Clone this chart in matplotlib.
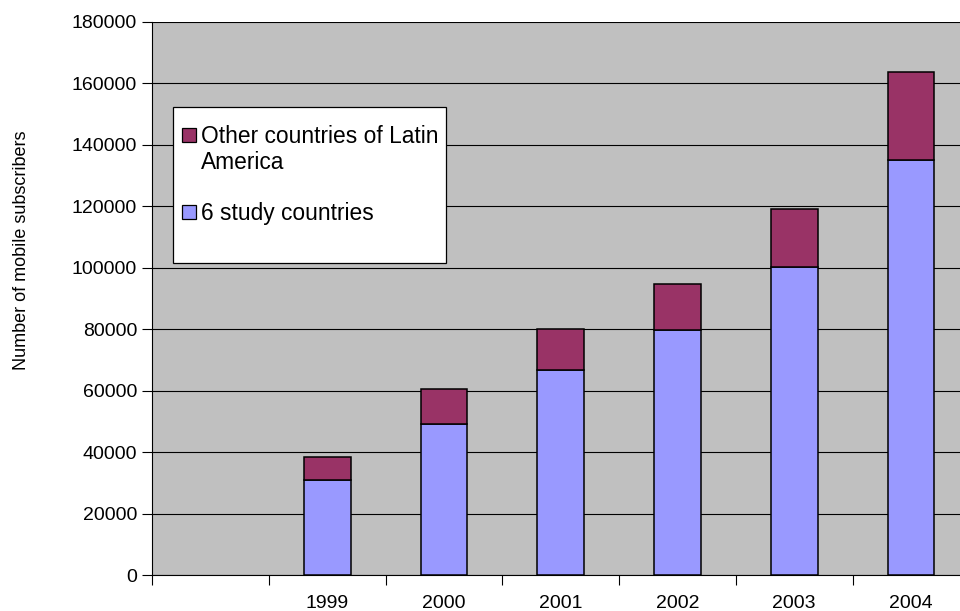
import matplotlib
matplotlib.use("Agg")
import matplotlib.pyplot as plt
from matplotlib.patches import Rectangle
import numpy as np

# Mobile subscribers by year, stacked
years = ["1999", "2000", "2001", "2002", "2003", "2004"]
study_countries = [31000, 49200, 66600, 79600, 100400, 135100]
other_latam = [7300, 11200, 13400, 15000, 18700, 28600]

series_labels = ["6 study countries", "Other countries of Latin\nAmerica"]
colors = ["#9999FF", "#993366"]
y_ticks = list(range(0, 180001, 20000))

plt.rcParams["font.family"] = ["Liberation Sans", "DejaVu Sans"]

W, H = 960, 611
fig = plt.figure(figsize=(W / 100, H / 100), dpi=100)
fig.patch.set_facecolor("white")

# plot area (extends slightly past the right edge of the canvas)
left, right, top, bottom = 152, 969.4, 22, 575
ax = fig.add_axes([left / W, 1 - bottom / H, (right - left) / W, (bottom - top) / H])
ax.set_facecolor("#C0C0C0")

# one empty leading category, then the years
n_cat = len(years) + 1
pos = np.arange(1, n_cat)
bar_w = 0.4

ax.bar(pos, study_countries, width=bar_w, color=colors[0], edgecolor="black",
       linewidth=1.1, zorder=3)
ax.bar(pos, other_latam, width=bar_w, bottom=study_countries, color=colors[1],
       edgecolor="black", linewidth=1.1, zorder=3)

ax.set_xlim(-0.5, n_cat - 0.5)
ax.set_ylim(0, 180000)

ax.set_yticks(y_ticks)
ax.set_yticklabels([str(v) for v in y_ticks])
ax.yaxis.grid(True, color="black", linewidth=0.8, zorder=1)
ax.set_axisbelow(True)

# category boundaries get tick marks, centers get the year labels
ax.set_xticks(np.arange(-0.5, n_cat - 0.5 + 0.01, 1.0))
ax.set_xticklabels([])
ax.set_xticks(pos, minor=True)
ax.set_xticklabels(years, minor=True)
ax.tick_params(axis="x", which="major", length=7, width=0.8, direction="out")
ax.tick_params(axis="x", which="minor", length=0, pad=14.3, labelsize=14)
ax.tick_params(axis="y", length=7, width=0.8, direction="out", pad=3.8, labelsize=14)

for s in ["top", "right"]:
    ax.spines[s].set_visible(False)
for s in ["left", "bottom"]:
    ax.spines[s].set_color("black")
    ax.spines[s].set_linewidth(0.8)

fig.text(22 / W, 1 - 250 / H, "Number of mobile subscribers", rotation=90,
         ha="center", va="center", fontsize=13)

# legend box with swatches and labels
fig.patches.append(Rectangle((173 / W, 1 - 263 / H), (446 - 173) / W, (263 - 107) / H,
                             transform=fig.transFigure, facecolor="white",
                             edgecolor="black", linewidth=0.9, zorder=5))
legend_items = [(colors[1], series_labels[1], 135), (colors[0], series_labels[0], 212)]
sw = 14
line_px = 26
for color, label, yc in legend_items:
    fig.patches.append(Rectangle((182 / W, 1 - (yc + sw / 2) / H), sw / W, sw / H,
                                 transform=fig.transFigure, facecolor=color,
                                 edgecolor="black", linewidth=0.9, zorder=6))
    # baseline of a multi-line text sits on its last line
    last_base = yc + 8.3 + label.count("\n") * line_px
    fig.text(201 / W, 1 - last_base / H, label, ha="left", va="baseline",
             fontsize=16.4, linespacing=1.17, zorder=7)

fig.savefig("out.png", dpi=100)
